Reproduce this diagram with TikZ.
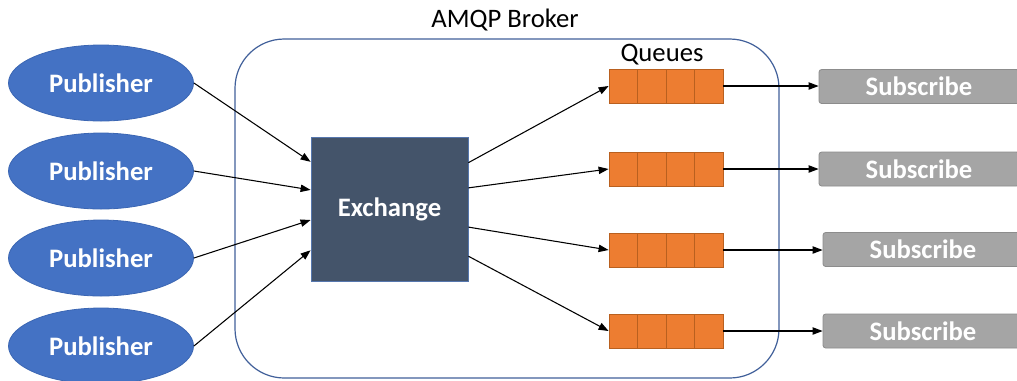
\documentclass[tikz,border=0pt]{standalone}
\usepackage{fontspec}
\setmainfont{Carlito}
\usetikzlibrary{arrows.meta,calc,shapes.geometric}
\definecolor{pubfill}{HTML}{4472C4}
\definecolor{publine}{HTML}{3B66B3}
\definecolor{exfill}{HTML}{44546A}
\definecolor{exline}{HTML}{5677AE}
\definecolor{qfill}{HTML}{ED7D31}
\definecolor{qline}{HTML}{B9601F}
\definecolor{subfill}{HTML}{A5A5A5}
\definecolor{subline}{HTML}{8C8C8C}
\definecolor{brokerline}{HTML}{41609A}
\begin{document}
\begin{tikzpicture}[x=0.75pt,y=-0.75pt,
  every node/.style={font=\fontsize{20}{24}\selectfont},
  pub/.style={ellipse, draw=publine, fill=pubfill, line width=0.6pt,
    minimum width=138.75pt, minimum height=57pt, inner sep=0pt,
    text=white, font=\fontsize{20}{24}\selectfont\bfseries},
  exbox/.style={rectangle, draw=exline, fill=exfill, line width=0.6pt,
    minimum width=117.75pt, minimum height=108pt, inner sep=0pt,
    text=white, font=\fontsize{20}{24}\selectfont\bfseries},
  qbox/.style={rectangle, draw=qline, fill=qfill, line width=0.6pt,
    minimum width=85.5pt, minimum height=25.5pt, inner sep=0pt,
    path picture={
      \foreach \i in {1,2,3}{
        \draw[qline, line width=0.6pt]
          ($(path picture bounding box.south west)!\i/4!(path picture bounding box.south east)$) --
          ($(path picture bounding box.north west)!\i/4!(path picture bounding box.north east)$);}}},
  subbox/.style={rectangle, rounded corners=2pt, draw=subline, fill=subfill, line width=0.6pt,
    minimum width=150pt, minimum height=25.5pt, inner sep=0pt,
    text=white, font=\fontsize{20}{24}\selectfont\bfseries},
  flow/.style={draw=black, line width=0.8pt, -{Triangle[length=7.5pt,width=5.5pt]}}
]
\clip (0,0) rectangle (1017,380);
\fill[white] (0,0) rectangle (1017,380);

% broker frame and labels
\draw[brokerline, line width=0.9pt, rounded corners=37pt] (235,39) rectangle (779,378);
\node (brokerlabel) at (505,20) {AMQP Broker};
\node (queuelabel) at (662,55) {Queues};

% publishers
\node[pub] (p1) at (101,83) {Publisher};
\node[pub] (p2) at (101,171) {Publisher};
\node[pub] (p3) at (101,258) {Publisher};
\node[pub] (p4) at (101,346) {Publisher};

% exchange
\node[exbox] (ex) at (389.5,209) {Exchange};

% queues
\node[qbox] (q1) at (666,86) {};
\node[qbox] (q2) at (666,169) {};
\node[qbox] (q3) at (666,250) {};
\node[qbox] (q4) at (666,331) {};

% subscribers
\node[subbox] (s1) at (919,86.5) {Subscribe};
\node[subbox] (s2) at (919,169) {Subscribe};
\node[subbox] (s3) at (923,249.5) {Subscribe};
\node[subbox] (s4) at (923,331) {Subscribe};

% publishers to exchange
\draw[flow] (p1.east) -- ($(ex.north west)!0.174!(ex.south west)$);
\draw[flow] (p2.east) -- ($(ex.north west)!0.368!(ex.south west)$);
\draw[flow] (p3.east) -- ($(ex.north west)!0.576!(ex.south west)$);
\draw[flow] (p4.east) -- ($(ex.north west)!0.785!(ex.south west)$);

% exchange to queues
\draw[flow] ($(ex.north east)!0.18!(ex.south east)$) -- (q1.west);
\draw[flow] ($(ex.north east)!0.354!(ex.south east)$) -- (q2.west);
\draw[flow] ($(ex.north east)!0.625!(ex.south east)$) -- (q3.west);
\draw[flow] ($(ex.north east)!0.826!(ex.south east)$) -- (q4.west);

% queues to subscribers
\draw[flow] (q1.east) -- (q1.east -| s1.west);
\draw[flow] (q2.east) -- (q2.east -| s2.west);
\draw[flow] (q3.east) -- (q3.east -| s3.west);
\draw[flow] (q4.east) -- (q4.east -| s4.west);
\end{tikzpicture}
\end{document}
